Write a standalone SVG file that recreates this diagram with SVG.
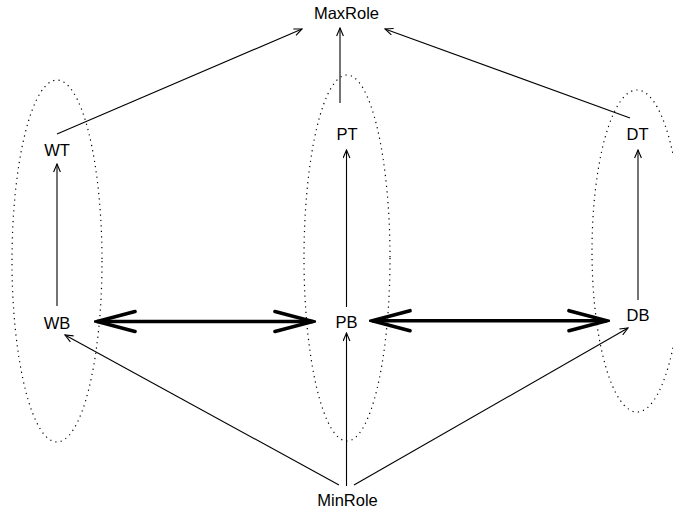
<svg xmlns="http://www.w3.org/2000/svg" width="673" height="511" viewBox="0 0 673 511">
  <style>
    .lbl { font-family: "Liberation Sans", Arial, sans-serif; font-size: 16.5px; fill: #000; text-anchor: middle; }
    .grp { fill: none; stroke: #000; stroke-width: 1.2; stroke-dasharray: 1.2 4.2; }
    .thin { fill: none; stroke: #000; stroke-width: 1.1; }
    .thick { fill: none; stroke: #000; stroke-width: 3.4; }
  </style>
  <defs>
    <marker id="open" markerWidth="10" markerHeight="8" refX="9" refY="4" orient="auto" markerUnits="userSpaceOnUse">
      <path d="M1,0.6 L9,4 L1,7.4" fill="none" stroke="#000" stroke-width="1.1"/>
    </marker>
    <marker id="bigEnd" markerWidth="44" markerHeight="26" refX="41" refY="13" orient="auto" markerUnits="userSpaceOnUse">
      <path d="M3,3 L41,13 L3,23" fill="none" stroke="#000" stroke-width="3.6" stroke-linecap="round" stroke-linejoin="miter"/>
    </marker>
    <marker id="bigStart" markerWidth="44" markerHeight="26" refX="3" refY="13" orient="auto" markerUnits="userSpaceOnUse">
      <path d="M41,3 L3,13 L41,23" fill="none" stroke="#000" stroke-width="3.6" stroke-linecap="round" stroke-linejoin="miter"/>
    </marker>
  </defs>

  <!-- dotted groupings -->
  <g id="groups">
    <ellipse class="grp" cx="57" cy="261" rx="45" ry="181"/>
    <ellipse class="grp" cx="347" cy="258" rx="43" ry="183"/>
    <ellipse class="grp" cx="637" cy="251" rx="45" ry="161"/>
  </g>

  <!-- connectors -->
  <g id="connectors">
    <line class="thin" x1="57" y1="134" x2="302" y2="29" marker-end="url(#open)"/>
    <line class="thin" x1="340" y1="103" x2="340" y2="28" marker-end="url(#open)"/>
    <line class="thin" x1="630" y1="118" x2="385" y2="29" marker-end="url(#open)"/>
    <line class="thin" x1="57" y1="306" x2="57" y2="164" marker-end="url(#open)"/>
    <line class="thin" x1="346.5" y1="307" x2="346.5" y2="150" marker-end="url(#open)"/>
    <line class="thin" x1="638" y1="300" x2="638" y2="150" marker-end="url(#open)"/>
    <line class="thin" x1="339" y1="485" x2="65" y2="335" marker-end="url(#open)"/>
    <line class="thin" x1="346.5" y1="486" x2="346.5" y2="333" marker-end="url(#open)"/>
    <line class="thin" x1="354" y1="485" x2="628" y2="328" marker-end="url(#open)"/>
    <line class="thick" x1="97" y1="321.5" x2="313" y2="321.5" marker-start="url(#bigStart)" marker-end="url(#bigEnd)"/>
    <line class="thick" x1="372" y1="320.7" x2="607" y2="320.7" marker-start="url(#bigStart)" marker-end="url(#bigEnd)"/>
  </g>

  <!-- nodes -->
  <g id="MaxRole"><text class="lbl" x="346.5" y="19">MaxRole</text></g>
  <g id="WT"><text class="lbl" x="57" y="156">WT</text></g>
  <g id="PT"><text class="lbl" x="347" y="140">PT</text></g>
  <g id="DT"><text class="lbl" x="637.5" y="140">DT</text></g>
  <g id="WB"><text class="lbl" x="57" y="329">WB</text></g>
  <g id="PB"><text class="lbl" x="346.5" y="328">PB</text></g>
  <g id="DB"><text class="lbl" x="638" y="321">DB</text></g>
  <g id="MinRole"><text class="lbl" x="347.5" y="506">MinRole</text></g>
</svg>
